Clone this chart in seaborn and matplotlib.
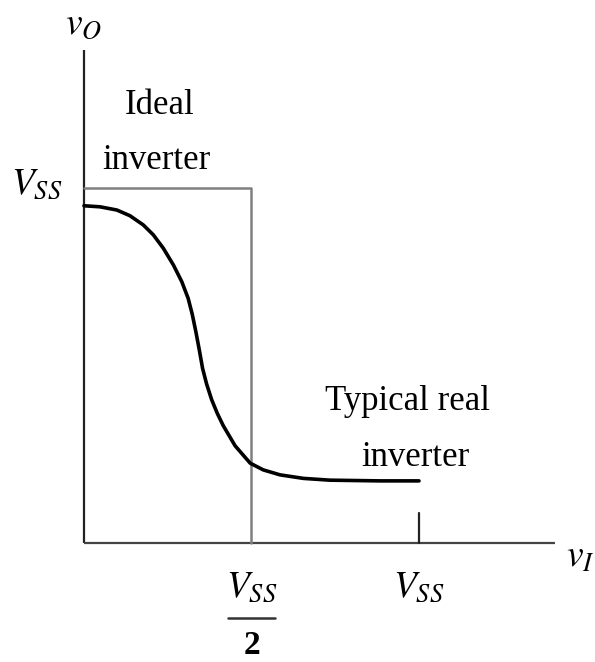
import numpy as np
import pandas as pd
import seaborn as sns
import matplotlib.pyplot as plt

# transfer characteristic, in units of V_SS
vss = 1.0
ideal_vi = [0.0, 0.5, 0.5]
ideal_vo = [1.0, 1.0, 0.0]

real_vi = [0.0, 0.048, 0.098, 0.137, 0.177, 0.207, 0.237, 0.267, 0.292, 0.311, 0.323,
           0.334, 0.344, 0.354, 0.366, 0.381, 0.398, 0.416, 0.451, 0.496, 0.535, 0.585,
           0.655, 0.734, 0.884, 1.0]
real_vo = [0.950, 0.947, 0.938, 0.922, 0.896, 0.868, 0.830, 0.783, 0.736, 0.689, 0.645,
           0.595, 0.545, 0.492, 0.448, 0.404, 0.365, 0.330, 0.274, 0.225, 0.206, 0.192,
           0.182, 0.177, 0.175, 0.175]

sns.set_style('white')
plt.rcParams['font.family'] = ['Liberation Serif', 'DejaVu Serif']
plt.rcParams['mathtext.fontset'] = 'stix'
plt.rcParams['text.color'] = 'black'

fig = plt.figure(figsize=(5.95, 6.62), dpi=100)
ax = fig.add_axes([0, 0, 1, 1])
ax.set_xlim(-0.2507, 1.5254)
ax.set_ylim(-0.3352, 1.5296)
ax.axis('off')

# axis lines and the V_SS tick
ax.plot([0, 0], [0, 1.389], color='#222222', lw=1.6, solid_capstyle='butt')
ax.plot([0, 1.406], [0, 0], color='#444444', lw=1.6, solid_capstyle='butt')
ax.plot([vss, vss], [0, 0.085], color='#222222', lw=1.6)

ideal = pd.DataFrame({'vi': ideal_vi, 'vo': ideal_vo})
real = pd.DataFrame({'vi': real_vi, 'vo': real_vo})
sns.lineplot(data=ideal, x='vi', y='vo', sort=False, estimator=None,
             color='#808080', lw=1.8, ax=ax)
sns.lineplot(data=real, x='vi', y='vo', sort=False, estimator=None,
             color='black', lw=2.6, solid_joinstyle='round', ax=ax)

fs = 25
ax.text(0.225, 1.232, 'Ideal', ha='center', va='center', fontsize=fs)
ax.text(0.215, 1.078, 'inverter', ha='center', va='center', fontsize=fs)
ax.text(0.967, 0.4, 'Typical real', ha='center', va='center', fontsize=fs)
ax.text(0.99, 0.24, 'inverter', ha='center', va='center', fontsize=fs)

ax.text(0.0, 1.46, r'$v_O$', ha='center', va='center', fontsize=27)
ax.text(1.44, -0.04, r'$v_I$', ha='left', va='center', fontsize=27)
ax.text(-0.14, 1.01, r'$V_{SS}$', ha='center', va='center', fontsize=27)
ax.text(vss, -0.125, r'$V_{SS}$', ha='center', va='center', fontsize=27)
ax.text(vss / 2, -0.125, r'$V_{SS}$', ha='center', va='center', fontsize=27)
ax.plot([vss / 2 - 0.07, vss / 2 + 0.07], [-0.211, -0.211], color='#333333', lw=1.8)
ax.text(vss / 2, -0.29, '2', ha='center', va='center', fontsize=24, fontweight='bold')

fig.savefig('out.png', dpi=100)
